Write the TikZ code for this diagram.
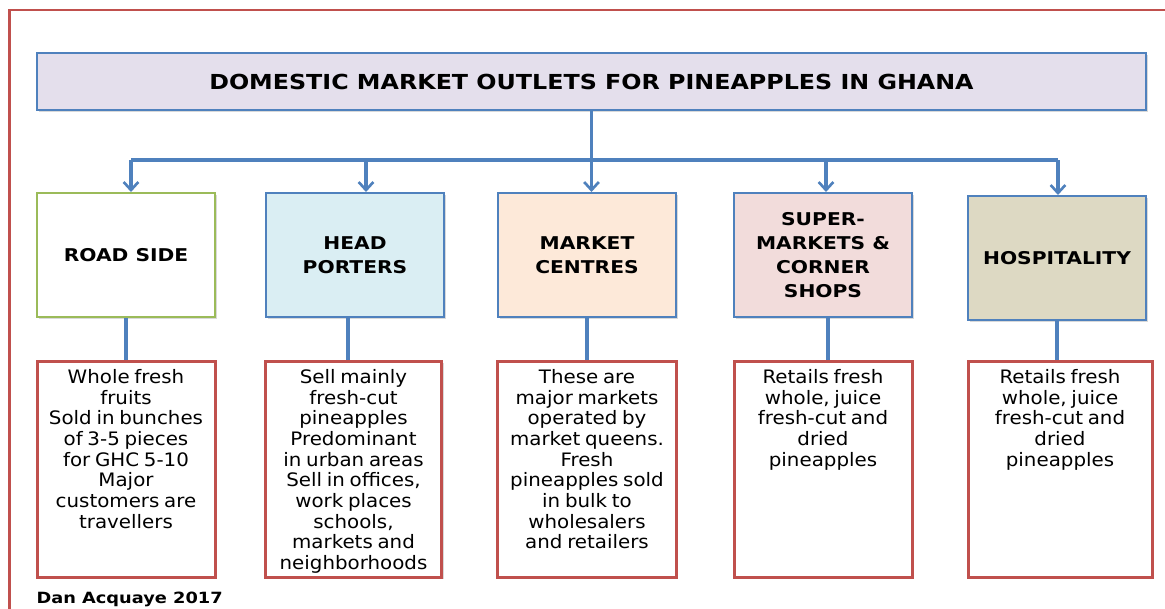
\documentclass[tikz,border=0pt]{standalone}
\usepackage{fontspec}
\usetikzlibrary{arrows.meta,shadows}
\newfontfamily\descfont[FakeStretch=1.07,WordSpace=0.75]{DejaVu Sans}
\newfontfamily\boxfont[FakeStretch=1.15]{DejaVu Sans}
\newcommand{\desclist}[1]{\begin{minipage}[c][150pt][t]{130pt}\centering\descfont\fontsize{13.9}{15.5}\selectfont\strut#1\end{minipage}}
\tikzset{every picture/.style={line width=0.75pt}}

\begin{document}
\begin{tikzpicture}[x=0.75pt,y=0.75pt,yscale=-1,xscale=1,
  boxshadow/.style={drop shadow={shadow xshift=1.5pt, shadow yshift=-1.5pt, opacity=0.25, fill=black!60}},
  titlebox/.style={boxshadow, draw={rgb, 255:red, 79; green, 129; blue, 189 }, line width=1.5pt, fill={rgb, 255:red, 228; green, 223; blue, 236 }, minimum width=831.75pt, minimum height=42.75pt, inner sep=0pt, font=\boxfont\bfseries\fontsize{15.5}{18}\selectfont},
  outletbox/.style={boxshadow, draw={rgb, 255:red, 79; green, 129; blue, 189 }, line width=1.5pt, minimum width=133.5pt, minimum height=93pt, inner sep=0pt, align=center, font=\boxfont\bfseries\fontsize{13.2}{18}\selectfont},
  descbox/.style={boxshadow, draw={rgb, 255:red, 192; green, 80; blue, 77 }, line width=2.25pt, fill=white, minimum height=162pt, inner sep=0pt},
  link/.style={draw={rgb, 255:red, 79; green, 129; blue, 189 }, line width=2.5pt},
  droplink/.style={link, -{Straight Barb[length=6pt, width=11pt, line width=2pt]}},
  frame/.style={draw={rgb, 255:red, 192; green, 80; blue, 77 }, line width=2pt},
  credit/.style={font=\boxfont\bfseries\fontsize{11.6}{14}\selectfont, inner sep=0pt}
]
\path[use as bounding box] (0,0) rectangle (1165,608);

%Shape: Rectangle
\draw[frame] (9.5,10) -- (1185,10) -- (1185,625) -- (9.5,625) -- cycle ;

%Shape: Rectangle
\node[titlebox] (title) at (591.5,81.5) {DOMESTIC MARKET OUTLETS FOR PINEAPPLES IN GHANA};

%Shape: Rectangle
\node[outletbox, draw={rgb, 255:red, 155; green, 187; blue, 89 }, fill=white] (road) at (126,255) {ROAD SIDE};
%Shape: Rectangle
\node[outletbox, fill={rgb, 255:red, 218; green, 238; blue, 243 }] (head) at (355,255) {HEAD\\PORTERS};
%Shape: Rectangle
\node[outletbox, fill={rgb, 255:red, 253; green, 233; blue, 217 }] (market) at (587,255) {MARKET\\CENTRES};
%Shape: Rectangle
\node[outletbox, fill={rgb, 255:red, 242; green, 220; blue, 219 }] (super) at (823,255) {SUPER-\\MARKETS \&\\CORNER\\SHOPS};
%Shape: Rectangle
\node[outletbox, fill={rgb, 255:red, 221; green, 217; blue, 195 }] (hosp) at (1057,258) {HOSPITALITY};

%Shape: Rectangle
\node[descbox, minimum width=133.5pt] (roaddesc) at (126,469) {\desclist{Whole fresh\\ fruits\\ Sold in bunches\\ of 3-5 pieces\\ for GHC 5-10\\ Major\\ customers are\\ travellers}};
%Shape: Rectangle
\node[descbox, minimum width=132pt] (headdesc) at (353.5,469) {\desclist{Sell mainly\\ fresh-cut\\ pineapples\\ Predominant\\ in urban areas\\ Sell in offices,\\ work places\\ schools,\\ markets and\\ neighborhoods}};
%Shape: Rectangle
\node[descbox, minimum width=134pt] (marketdesc) at (587,469) {\desclist{These are\\ major markets\\ operated by\\ market queens.\\ Fresh\\ pineapples sold\\ in bulk to\\ wholesalers\\ and retailers}};
%Shape: Rectangle
\node[descbox, minimum width=133.5pt] (superdesc) at (823,469) {\desclist{Retails fresh\\ whole, juice\\ fresh-cut and\\ dried\\ pineapples}};
%Shape: Rectangle
\node[descbox, minimum width=138pt] (hospdesc) at (1060,469) {\desclist{Retails fresh\\ whole, juice\\ fresh-cut and\\ dried\\ pineapples}};

%Straight Lines
\coordinate (b1) at (131,160);
\coordinate (b2) at (366,160);
\coordinate (b3) at (591.5,160);
\coordinate (b4) at (826,160);
\coordinate (b5) at (1058,160);
\draw[link] (title.south) -- (b3) ;
\draw[link] (b1) -- (b5) ;
\draw[droplink] (b1) -- (b1 |- road.north) ;
\draw[droplink] (b2) -- (b2 |- head.north) ;
\draw[droplink] (b3) -- (b3 |- market.north) ;
\draw[droplink] (b4) -- (b4 |- super.north) ;
\draw[droplink] (b5) -- (b5 |- hosp.north) ;

%Straight Lines
\draw[link] (road.south) -- (roaddesc.north) ;
\draw[link] ([xshift=-5.25pt]head.south) -- ([xshift=-5.25pt]head.south |- headdesc.north) ;
\draw[link] (market.south) -- (market.south |- marketdesc.north) ;
\draw[link] ([xshift=3.75pt]super.south) -- ([xshift=3.75pt]super.south |- superdesc.north) ;
\draw[link] (hosp.south) -- (hosp.south |- hospdesc.north) ;

\node[credit, anchor=base west] (credit) at (36,603) {Dan Acquaye 2017};
\end{tikzpicture}
\end{document}
